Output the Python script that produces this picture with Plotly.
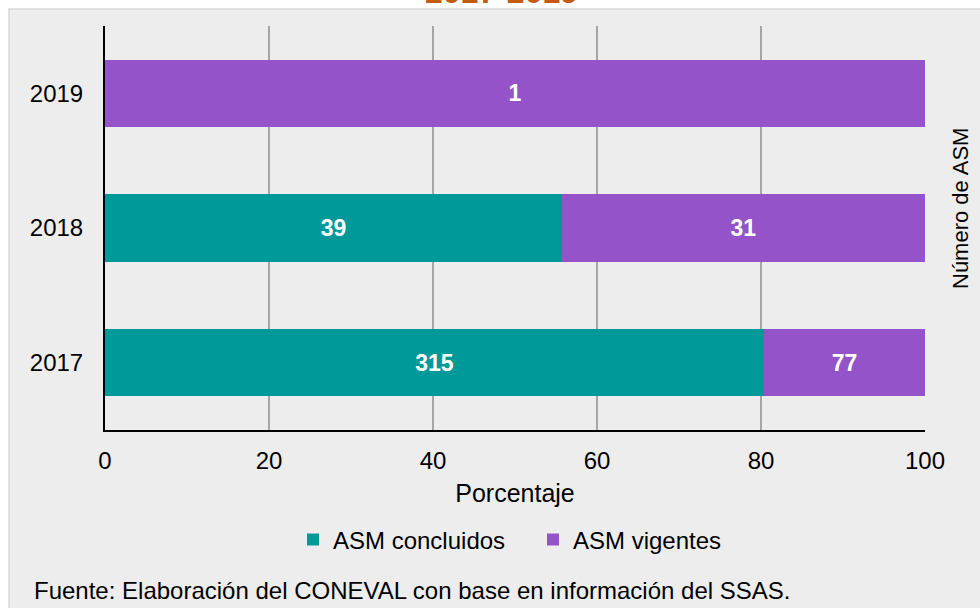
import plotly.graph_objects as go

years = ["2017", "2018", "2019"]
asm_concluidos = [315, 39, 0]
asm_vigentes = [77, 31, 1]
series_names = ["ASM concluidos", "ASM vigentes"]
title_text = "2017-2019"
x_title = "Porcentaje"
right_title = "Número de ASM"
source_text = "Fuente: Elaboración del CONEVAL con base en información del SSAS."

totals = [a + b for a, b in zip(asm_concluidos, asm_vigentes)]
pct_conc = [100 * a / t for a, t in zip(asm_concluidos, totals)]
pct_vig = [100 * b / t for b, t in zip(asm_vigentes, totals)]

FONT = "Liberation Sans, Arial, sans-serif"
TEAL = "#009999"
PURPLE = "#9553C9"

fig = go.Figure()
fig.add_trace(go.Bar(
    y=years, x=pct_conc, orientation="h", name=series_names[0],
    marker=dict(color=TEAL, line=dict(width=0)),
    text=[str(v) if v else "" for v in asm_concluidos],
    textposition="inside", insidetextanchor="middle",
    textfont=dict(color="white", size=23, family=FONT, weight="bold"),
    width=0.5, hoverinfo="skip",
))
fig.add_trace(go.Bar(
    y=years, x=pct_vig, orientation="h", name=series_names[1],
    marker=dict(color=PURPLE, line=dict(width=0)),
    text=[str(v) if v else "" for v in asm_vigentes],
    textposition="inside", insidetextanchor="middle",
    textfont=dict(color="white", size=23, family=FONT, weight="bold"),
    width=0.5, hoverinfo="skip",
))

L, R, T, B = 105, 55, 26, 178
W, H = 980, 608
pw, ph = W - L - R, H - T - B

def px(x):
    return (x - L) / pw

def py(y):
    return (H - B - y) / ph

fig.update_layout(
    width=W, height=H,
    margin=dict(l=L, r=R, t=T, b=B),
    paper_bgcolor="white",
    plot_bgcolor="rgba(0,0,0,0)",
    barmode="stack",
    font=dict(family=FONT, color="#000000", size=24),
    showlegend=True,
    legend=dict(
        orientation="h", x=px(533), xanchor="center", y=py(540), yanchor="middle",
        font=dict(size=24, family=FONT), bgcolor="rgba(0,0,0,0)",
        itemwidth=30, traceorder="normal",
        entrywidth=195, entrywidthmode="pixels",
    ),
    xaxis=dict(
        range=[0, 100], dtick=20, tick0=0,
        showgrid=True, gridcolor="#A6A6A6", gridwidth=2,
        showline=True, linecolor="#000000", linewidth=2,
        zeroline=False, ticks="", tickfont=dict(size=24), ticklabelstandoff=8,
        title=dict(text=x_title, font=dict(size=25), standoff=12),
        fixedrange=True,
    ),
    yaxis=dict(
        range=[-0.5, 2.5],
        showgrid=False, showline=True, linecolor="#000000", linewidth=2,
        ticks="", tickfont=dict(size=24), ticklabelstandoff=15,
        fixedrange=True,
    ),
    shapes=[
        dict(type="rect", xref="paper", yref="paper", layer="below",
             x0=px(9), x1=px(990), y0=py(620), y1=py(9),
             fillcolor="#EDEDED", line=dict(color="#D9D9D9", width=1.5)),
    ],
    annotations=[
        dict(text=title_text, xref="paper", yref="paper", x=px(501), y=py(-8),
             xanchor="center", yanchor="middle", showarrow=False,
             font=dict(size=32, color="#C55A11", family=FONT, weight="bold")),
        dict(text=right_title, xref="paper", yref="paper", x=px(961), y=py(209),
             xanchor="center", yanchor="middle", textangle=-90, showarrow=False,
             font=dict(size=22, family=FONT)),
        dict(text=source_text, xref="paper", yref="paper", x=px(32), y=py(590),
             xanchor="left", yanchor="middle", showarrow=False,
             font=dict(size=24, family=FONT)),
    ],
)

fig.write_html("out.html", config={"displayModeBar": False},
               post_script="document.body.style.margin='0';")
